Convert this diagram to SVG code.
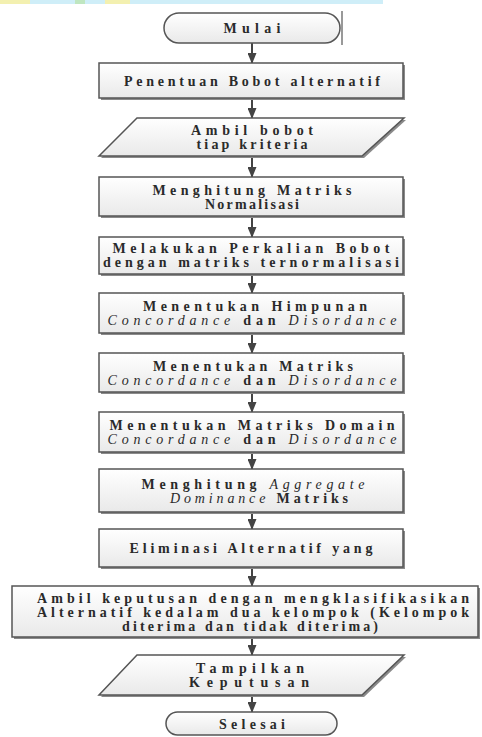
<svg xmlns="http://www.w3.org/2000/svg" width="482" height="737" viewBox="0 0 482 737">
<style>
.box{fill:url(#g);stroke:#555;stroke-width:1.5}
.sh{fill:#8a8a8a}
.t{font-family:"Liberation Serif","Times New Roman",serif;font-size:14px;font-weight:bold;fill:#2a2a2a;text-anchor:middle}
.i{font-style:italic;font-weight:normal}
.c{stroke:#444;stroke-width:2;fill:none;marker-end:url(#ah)}
</style>
<defs>
<linearGradient id="g" x1="0" y1="0" x2="0" y2="1">
<stop offset="0" stop-color="#ffffff"/>
<stop offset="1" stop-color="#e9e9e9"/>
</linearGradient>
<marker id="ah" markerWidth="11" markerHeight="9" refX="10" refY="4.5" orient="auto" markerUnits="userSpaceOnUse">
<path d="M0,0 L11,4.5 L0,9 z" fill="#444"/>
</marker>
</defs>
<rect width="482" height="737" fill="#fff"/>
<g id="band">
<rect x="0" y="0" width="383" height="4" fill="#cfeef8"/>
<rect x="0" y="0" width="30" height="4" fill="#f3f0b0"/>
<rect x="105" y="0" width="25" height="4" fill="#f3f0b0"/>
<rect x="75" y="0" width="10" height="4" fill="#bfe6c0"/>
</g>
<g id="connectors">
<line class="c" x1="252" y1="43" x2="252" y2="63"/>
<line class="c" x1="252" y1="98" x2="252" y2="118"/>
<line class="c" x1="252" y1="156" x2="252" y2="177"/>
<line class="c" x1="252" y1="216" x2="252" y2="237"/>
<line class="c" x1="252" y1="274" x2="252" y2="293"/>
<line class="c" x1="252" y1="333" x2="252" y2="353"/>
<line class="c" x1="252" y1="392" x2="252" y2="412"/>
<line class="c" x1="252" y1="452" x2="252" y2="469"/>
<line class="c" x1="252" y1="512" x2="252" y2="529"/>
<line class="c" x1="252" y1="567" x2="252" y2="586"/>
<line class="c" x1="252" y1="637" x2="252" y2="655"/>
<line class="c" x1="252" y1="695" x2="252" y2="712"/>
</g>
<g id="mulai">
<rect class="box" x="164" y="13" width="176" height="30" rx="15"/>
<line x1="342" y1="11" x2="342" y2="45" stroke="#555" stroke-width="1.2"/>
<text class="t" x="252" y="33" textLength="57">Mulai</text>
</g>
<g id="penentuan">
<rect class="sh" x="101" y="65" width="304" height="35"/>
<rect class="box" x="99" y="63" width="304" height="35"/>
<text class="t" x="252" y="86" textLength="256">Penentuan Bobot alternatif</text>
</g>
<g id="ambil-bobot">
<polygon class="sh" points="139,120 406,120 364,158 101,158"/>
<polygon class="box" points="137,118 404,118 362,156 99,156"/>
<text class="t" x="252" y="135" textLength="122">Ambil bobot</text>
<text class="t" x="252" y="149" textLength="111">tiap kriteria</text>
</g>
<g id="normalisasi">
<rect class="sh" x="101" y="179" width="304" height="39"/>
<rect class="box" x="99" y="177" width="304" height="39"/>
<text class="t" x="252" y="195" textLength="199">Menghitung Matriks</text>
<text class="t" x="252" y="209" textLength="94">Normalisasi</text>
</g>
<g id="perkalian">
<rect class="sh" x="101" y="239" width="304" height="37"/>
<rect class="box" x="99" y="237" width="304" height="37"/>
<text class="t" x="251" y="253" textLength="277">Melakukan Perkalian Bobot</text>
<text class="t" x="251" y="267" textLength="296">dengan matriks ternormalisasi</text>
</g>
<g id="himpunan">
<rect class="sh" x="101" y="295" width="304" height="40"/>
<rect class="box" x="99" y="293" width="304" height="40"/>
<text class="t" x="255" y="311" textLength="224">Menentukan Himpunan</text>
<text class="t" x="252" y="325" textLength="289"><tspan class="i">Concordance</tspan> dan <tspan class="i">Disordance</tspan></text>
</g>
<g id="matriks">
<rect class="sh" x="101" y="355" width="304" height="39"/>
<rect class="box" x="99" y="353" width="304" height="39"/>
<text class="t" x="253" y="371" textLength="200">Menentukan Matriks</text>
<text class="t" x="252" y="385" textLength="289"><tspan class="i">Concordance</tspan> dan <tspan class="i">Disordance</tspan></text>
</g>
<g id="domain">
<rect class="sh" x="101" y="414" width="304" height="40"/>
<rect class="box" x="99" y="412" width="304" height="40"/>
<text class="t" x="252" y="430" textLength="285">Menentukan Matriks Domain</text>
<text class="t" x="252" y="444" textLength="289"><tspan class="i">Concordance</tspan> dan <tspan class="i">Disordance</tspan></text>
</g>
<g id="aggregate">
<rect class="sh" x="101" y="471" width="304" height="43"/>
<rect class="box" x="99" y="469" width="304" height="43"/>
<text class="t" x="253" y="489" textLength="223">Menghitung <tspan class="i">Aggregate</tspan></text>
<text class="t" x="259" y="503" textLength="178"><tspan class="i">Dominance</tspan> Matriks</text>
</g>
<g id="eliminasi">
<rect class="sh" x="101" y="531" width="304" height="38"/>
<rect class="box" x="99" y="529" width="304" height="38"/>
<text class="t" x="251" y="553" textLength="243">Eliminasi Alternatif yang</text>
</g>
<g id="keputusan">
<rect class="sh" x="14" y="588" width="466" height="51"/>
<rect class="box" x="12" y="586" width="466" height="51"/>
<text class="t" x="253" y="603" textLength="432">Ambil keputusan dengan mengklasifikasikan</text>
<text class="t" x="253" y="617" textLength="432">Alternatif kedalam dua kelompok (Kelompok</text>
<text class="t" x="250" y="631" textLength="256">diterima dan tidak diterima)</text>
</g>
<g id="tampilkan">
<polygon class="sh" points="139,657 406,657 364,697 101,697"/>
<polygon class="box" points="137,655 404,655 362,695 99,695"/>
<text class="t" x="250" y="673" textLength="108">Tampilkan</text>
<text class="t" x="249" y="687" textLength="120">Keputusan</text>
</g>
<g id="selesai">
<rect class="box" x="166" y="712" width="171" height="23" rx="11.5"/>
<text class="t" x="252" y="729" textLength="66">Selesai</text>
</g>
</svg>
